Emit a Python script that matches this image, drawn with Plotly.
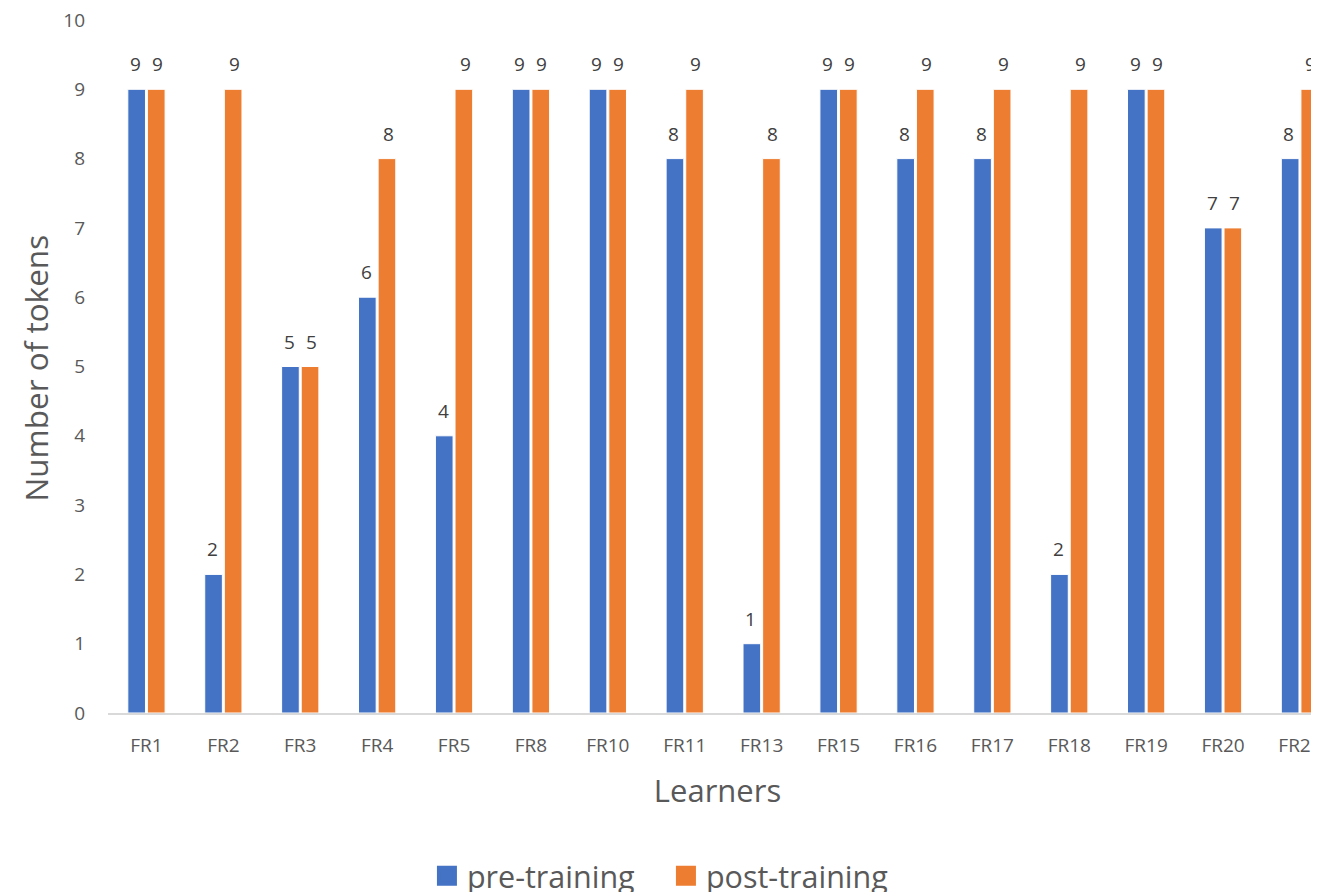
import plotly.graph_objects as go

learners = ["FR1", "FR2", "FR3", "FR4", "FR5", "FR8", "FR10", "FR11", "FR13",
            "FR15", "FR16", "FR17", "FR18", "FR19", "FR20", "FR21"]
pre_training = [9, 2, 5, 6, 4, 9, 9, 8, 1, 9, 8, 8, 2, 9, 7, 8]
post_training = [9, 9, 5, 8, 9, 9, 9, 9, 8, 9, 9, 9, 9, 9, 7, 9]
y_ticks = [0, 1, 2, 3, 4, 5, 6, 7, 8, 9, 10]
series_names = ["pre-training", "post-training"]
x_title = "Learners"
y_title = "Number of tokens"

BLUE = "#4472C4"
ORANGE = "#ED7D31"
FONT = "Open Sans"
GREY = "#595959"

W, H = 1319, 892
L, T, B = 100, 12, 187
CAT_PX = 76.9

fig = go.Figure()
for name, vals, col in zip(series_names, [pre_training, post_training], [BLUE, ORANGE]):
    fig.add_trace(go.Bar(x=learners, y=vals, name=name, showlegend=False,
                         marker=dict(color=col, line=dict(color="white", width=1))))
# legend entries (square swatches)
for name, col in zip(series_names, [BLUE, ORANGE]):
    fig.add_trace(go.Scatter(x=[None], y=[None], mode="markers", name=name,
                             marker=dict(symbol="square", size=16, color=col,
                                         line=dict(color=col, width=4))))

annotations = []
for series, shift in ((pre_training, -11), (post_training, 11)):
    for cat, val in zip(learners, series):
        annotations.append(dict(x=cat, y=val, xref="x", yref="y", text=str(val),
                                showarrow=False, xshift=shift, yshift=25,
                                font=dict(family=FONT, size=19, color="#404040")))
# y-axis title
annotations.append(dict(x=0, y=0.5, xref="paper", yref="paper", text=y_title,
                        textangle=-90, showarrow=False, xanchor="center", yanchor="middle",
                        xshift=-73, yshift=-2,
                        font=dict(family=FONT, size=31.5, color=GREY)))

fig.update_layout(
    width=W, height=H,
    margin=dict(l=L, r=0, t=T, b=B, autoexpand=False),
    paper_bgcolor="white", plot_bgcolor="white",
    barmode="group", bargap=0.49, bargroupgap=0.1,
    font=dict(family=FONT, color=GREY),
    annotations=annotations,
    showlegend=True,
    legend=dict(orientation="h", x=0.4577, xanchor="center", y=-0.2352, yanchor="middle",
                font=dict(family=FONT, size=30.5, color=GREY), itemwidth=30,
                entrywidth=194, entrywidthmode="pixels"),
)
fig.update_xaxes(
    range=[-0.5, -0.5 + (W - L) / CAT_PX], automargin=False,
    showline=True, linecolor="#D9D9D9", linewidth=2,
    showgrid=False, ticks="", tickfont=dict(family=FONT, size=19, color=GREY),
    ticklabelstandoff=14, ticklabeloverflow="allow",
    title=dict(text=x_title, font=dict(family=FONT, size=31, color=GREY), standoff=24),
)
fig.update_yaxes(
    range=[0, 10], tickvals=y_ticks, showgrid=False, showline=False, zeroline=False,
    automargin=False, ticklabeloverflow="allow",
    tickfont=dict(family=FONT, size=19, color=GREY), ticklabelstandoff=22,
)
fig.write_html("out.html")
